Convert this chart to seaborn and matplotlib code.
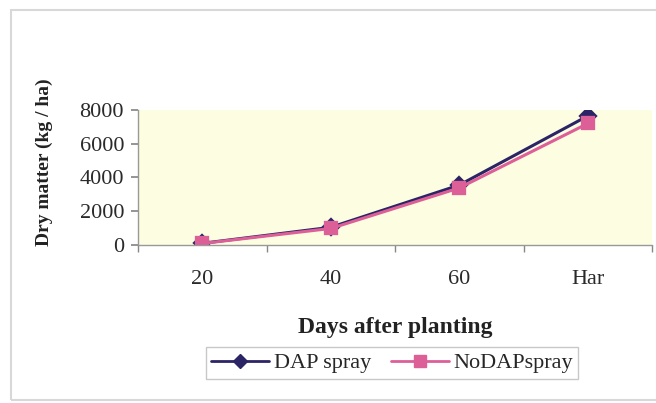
import matplotlib
matplotlib.use("Agg")
import matplotlib.pyplot as plt
import seaborn as sns
import pandas as pd
from matplotlib.patches import Rectangle
from matplotlib.lines import Line2D

categories = ["20", "40", "60", "Har"]
dap_spray = [100, 1050, 3550, 7650]
nodap_spray = [90, 980, 3380, 7200]
series_names = ["DAP spray", "NoDAPspray"]
yticks = [0, 2000, 4000, 6000, 8000]

df = pd.DataFrame({
    "day": categories * 2,
    "dm": dap_spray + nodap_spray,
    "series": [series_names[0]] * 4 + [series_names[1]] * 4,
})

sns.set_theme(style="white")
plt.rcParams["font.family"] = ["Liberation Serif", "DejaVu Serif"]

colors = {"DAP spray": "#2b2566", "NoDAPspray": "#dd5f98"}

fig = plt.figure(figsize=(6.56, 4.03), dpi=100)
fig.patch.set_facecolor("white")
fig.patches.append(Rectangle((11/656, 1 - 400/403), 1.0, (400 - 10)/403,
                             transform=fig.transFigure, fill=False,
                             edgecolor="#d8d8d8", linewidth=1.5, zorder=0))

ax = fig.add_axes([138/656, 1 - 245/403, (652 - 138)/656, (245 - 110)/403])
ax.set_facecolor("#fdfde2")

sns.pointplot(data=df, x="day", y="dm", hue="series", order=categories,
              palette=colors, markers=["D", "s"], linestyles=["-", "-"],
              dodge=False, ax=ax, legend=False, markersize=8, linewidth=2.2)

ax.set_xlim(-0.5, 3.5)
ax.set_ylim(0, 8000)
ax.set_yticks(yticks)
ax.set_yticklabels([str(v) for v in yticks], fontsize=16, color="#2a2a2a")
ax.set_xticks(range(4))
ax.set_xticklabels(categories, fontsize=16, color="#2a2a2a")
ax.set_xticks([-0.5, 0.5, 1.5, 2.5, 3.5], minor=True)
ax.tick_params(axis="x", which="major", length=0, pad=18)
ax.tick_params(axis="x", which="minor", length=5, color="#888888", bottom=True)
ax.tick_params(axis="y", length=5, color="#888888", left=True, pad=5)

for s in ["top", "right"]:
    ax.spines[s].set_visible(False)
for s in ["left", "bottom"]:
    ax.spines[s].set_color("#999999")
    ax.spines[s].set_linewidth(1.0)

ax.set_xlabel("Days after planting", fontsize=17, fontweight="bold",
              color="#222222", labelpad=20)
ax.set_ylabel("Dry matter (kg / ha)", fontsize=14, fontweight="bold",
              color="#222222")
ax.yaxis.set_label_coords((53 - 138) / 514, (245 - 162) / 135)

handles = [
    Line2D([0], [0], color=colors["DAP spray"], marker="D", markersize=7, lw=2.0),
    Line2D([0], [0], color=colors["NoDAPspray"], marker="s", markersize=8, lw=2.0),
]
leg = fig.legend(handles, series_names, loc="center", bbox_to_anchor=(392/656, 1 - 363/403),
                 ncol=2, frameon=True, fontsize=16, handlelength=2.6,
                 columnspacing=0.9, handletextpad=0.2, borderpad=0.25,
                 fancybox=False, edgecolor="#bbbbbb")
leg.get_frame().set_linewidth(1.0)

fig.savefig("out.png", dpi=100)
